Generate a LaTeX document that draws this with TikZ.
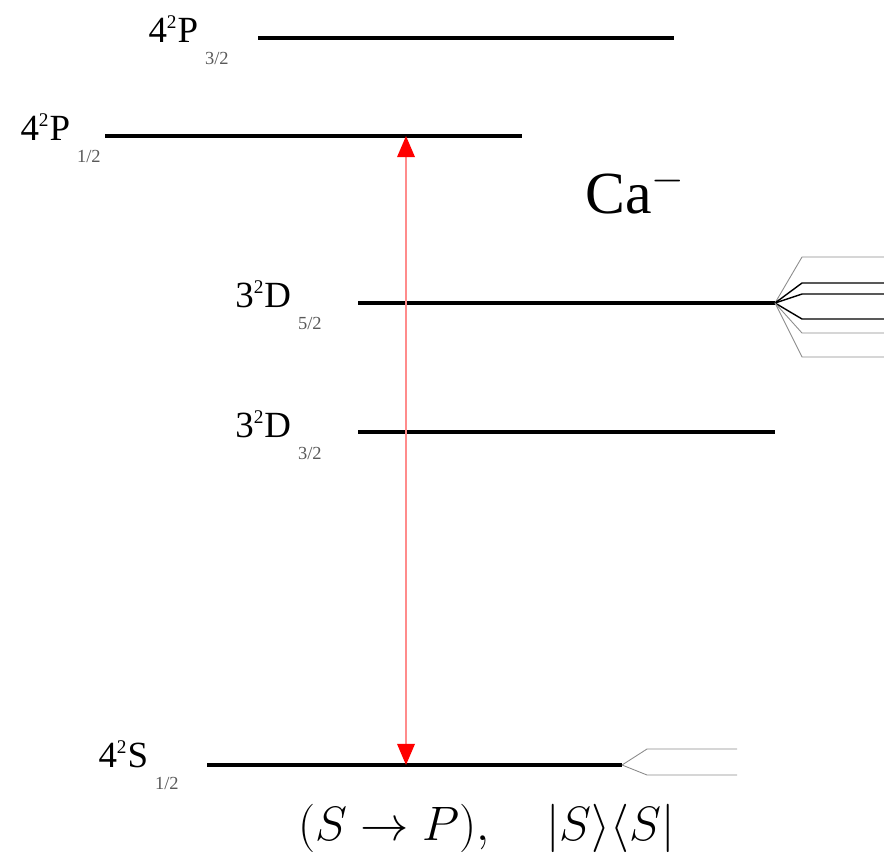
\RequirePackage{fix-cm}
\documentclass[tikz,border=0pt]{standalone}
\usepackage{fontspec}
\setmainfont{Liberation Serif}
\usetikzlibrary{arrows.meta,positioning}
\newcommand{\lev}[4]{#1\textsuperscript{\fontsize{11}{11}\selectfont #2}#3\hspace{4pt}\raisebox{-1.3ex}{\color{black!65}\fontsize{10.5}{10.5}\selectfont #4}}
\tikzset{
  level/.style={line width=2.3pt},
  lbl/.style={anchor=base east, inner sep=0pt, font=\fontsize{21}{21}\selectfont},
  fanbold/.style={line width=0.8pt},
  fanfaint/.style={black!45, line width=0.5pt},
}

\begin{document}
\begin{tikzpicture}[x=0.02cm,y=-0.02cm]
    \useasboundingbox (0,0) rectangle (884,856);
    % Level ends
    \coordinate (p32a) at (258,38);  \coordinate (p32b) at (674,38);
    \coordinate (p12a) at (105,136); \coordinate (p12b) at (522,136);
    \coordinate (d52a) at (358,303); \coordinate (d52b) at (775,303);
    \coordinate (d32a) at (358,432); \coordinate (d32b) at (775,432);
    \coordinate (s12a) at (207,765); \coordinate (s12b) at (622,765);
    % Levels
    \draw[level] (p32a) -- (p32b);
    \draw[level] (p12a) -- (p12b);
    \draw[level] (d52a) -- (d52b);
    \draw[level] (d32a) -- (d32b);
    \draw[level] (s12a) -- (s12b);
    % Labels
    \node[lbl] (lp32) at (229,42)  {\lev{4}{2}{P}{3/2}};
    \node[lbl] (lp12) at (101,140) {\lev{4}{2}{P}{1/2}};
    \node[lbl] (ld52) at (322,307) {\lev{3}{2}{D}{5/2}};
    \node[lbl] (ld32) at (322,437) {\lev{3}{2}{D}{3/2}};
    \node[lbl] (ls12) at (179,767) {\lev{4}{2}{S}{1/2}};
    % Ion
    \node[anchor=base west, inner sep=0pt, font=\fontsize{34}{34}\selectfont] (ion) at (585,213) {Ca\textsuperscript{$-$}};
    % Transition
    \coordinate (up) at (406,136);
    \coordinate (dn) at (406,765);
    \draw[red!45, line width=0.9pt,
      {Triangle[length=12pt,width=10pt,color=red]}-{Triangle[length=12pt,width=10pt,color=red]}]
      (up) -- (dn);
    % Zeeman fan of D5/2
    \foreach \y/\s in {257/fanfaint,283/fanbold,294/fanbold,319/fanbold,333/fanfaint,357/fanfaint}
      \draw[\s] (d52b) -- (802,\y) -- (884,\y);
    % Zeeman fan of S1/2
    \foreach \y in {749,775}
      \draw[fanfaint] (s12b) -- (647,\y) -- (737,\y);
    % Caption
    \node[anchor=base west, inner sep=0pt, font=\fontsize{27.5}{27.5}\selectfont] (cap) at (298,840)
      {$(S\to P),\quad |S\rangle\langle S|$};
  \end{tikzpicture}
\end{document}
